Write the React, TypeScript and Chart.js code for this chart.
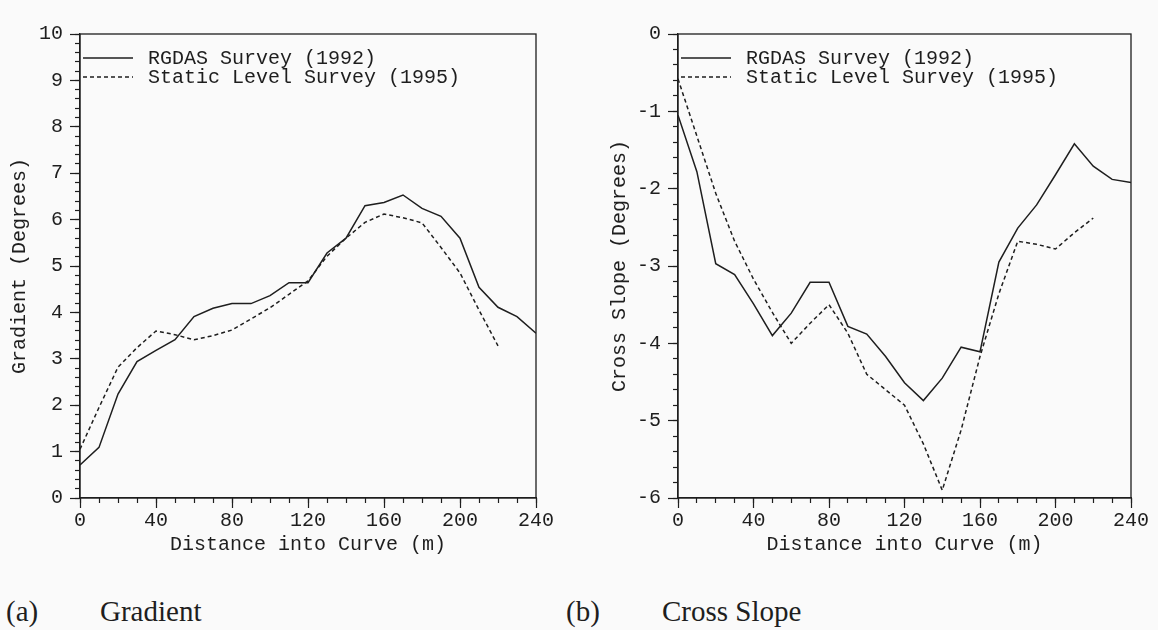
import React, { useEffect, useRef } from "react";
import { Chart, registerables } from "chart.js";

Chart.register(...registerables);

// ---------------- data ----------------
const distanceRgdas = [0, 10, 20, 30, 40, 50, 60, 70, 80, 90, 100, 110, 120, 130, 140, 150, 160, 170, 180, 190, 200, 210, 220, 230, 240];
const distanceStatic = [0, 10, 20, 30, 40, 50, 60, 70, 80, 90, 100, 110, 120, 130, 140, 150, 160, 170, 180, 190, 200, 210, 220];

const gradientRgdas = [0.71, 1.09, 2.24, 2.94, 3.18, 3.41, 3.91, 4.09, 4.19, 4.19, 4.36, 4.64, 4.64, 5.28, 5.6, 6.3, 6.37, 6.53, 6.24, 6.07, 5.6, 4.54, 4.11, 3.91, 3.55];
const gradientStatic = [1.05, 1.95, 2.82, 3.24, 3.6, 3.52, 3.41, 3.5, 3.62, 3.86, 4.1, 4.39, 4.68, 5.21, 5.6, 5.94, 6.12, 6.04, 5.93, 5.4, 4.85, 4.05, 3.28];

const crossRgdas = [-1.05, -1.78, -2.97, -3.11, -3.49, -3.9, -3.61, -3.21, -3.21, -3.78, -3.88, -4.17, -4.51, -4.74, -4.45, -4.05, -4.11, -2.95, -2.51, -2.21, -1.82, -1.42, -1.71, -1.88, -1.92];
const crossStatic = [-0.58, -1.32, -2.06, -2.68, -3.17, -3.6, -4.0, -3.74, -3.5, -3.87, -4.4, -4.6, -4.8, -5.3, -5.9, -5.12, -4.17, -3.36, -2.68, -2.72, -2.78, -2.57, -2.38];

const seriesLabels = ["RGDAS Survey (1992)", "Static Level Survey (1995)"];
const xTitle = "Distance into Curve (m)";
const gradientTitle = "Gradient (Degrees)";
const crossTitle = "Cross Slope (Degrees)";

// ---------------- styles ----------------
const MONO = "'Liberation Mono', 'DejaVu Sans Mono', monospace";
const INK = "#1e1e1e";
const monoFont = { family: MONO, size: 20, lineHeight: 1.2 };

function pairs(xs: number[], ys: number[]) {
  return ys.map((y, i) => ({ x: xs[i], y }));
}

const framePlugin = {
  id: "frame",
  afterDatasetsDraw(chart: any) {
    const { ctx, chartArea } = chart;
    ctx.save();
    ctx.strokeStyle = INK;
    ctx.lineWidth = 1.3;
    ctx.strokeRect(chartArea.left, chartArea.top, chartArea.right - chartArea.left, chartArea.bottom - chartArea.top);
    ctx.restore();
  },
};

const insideLegendPlugin = {
  id: "insideLegend",
  afterDatasetsDraw(chart: any) {
    const { ctx, chartArea } = chart;
    ctx.save();
    chart.data.datasets.forEach((ds: any, i: number) => {
      const y = chartArea.top + 24 + i * 19;
      ctx.strokeStyle = ds.borderColor;
      ctx.lineWidth = ds.borderWidth;
      ctx.setLineDash(ds.borderDash || []);
      ctx.beginPath();
      ctx.moveTo(chartArea.left + 3, y);
      ctx.lineTo(chartArea.left + 53, y);
      ctx.stroke();
      ctx.setLineDash([]);
      ctx.fillStyle = INK;
      ctx.font = `20px ${MONO}`;
      ctx.textBaseline = "middle";
      ctx.textAlign = "left";
      ctx.fillText(ds.label, chartArea.left + 68, y + 1);
    });
    ctx.restore();
  },
};

type PanelProps = {
  xsA: number[];
  ysA: number[];
  xsB: number[];
  ysB: number[];
  yMin: number;
  yMax: number;
  yTitle: string;
  yAxisWidth: number;
  yTitlePad: number;
  padRight: number;
  width: number;
  height: number;
  left: number;
};

function Panel(p: PanelProps) {
  const ref = useRef<HTMLCanvasElement | null>(null);
  useEffect(() => {
    if (!ref.current) return;
    const chart = new Chart(ref.current, {
      type: "line",
      data: {
        datasets: [
          {
            label: seriesLabels[0],
            data: pairs(p.xsA, p.ysA),
            borderColor: INK,
            borderWidth: 1.5,
            pointRadius: 0,
            tension: 0,
            fill: false,
            xAxisID: "x",
            yAxisID: "y",
          },
          {
            label: seriesLabels[1],
            data: pairs(p.xsB, p.ysB),
            borderColor: INK,
            borderWidth: 1.5,
            borderDash: [4, 3],
            pointRadius: 0,
            tension: 0,
            fill: false,
            xAxisID: "x",
            yAxisID: "y",
          },
        ],
      },
      options: {
        responsive: false,
        animation: false,
        devicePixelRatio: 1,
        layout: { padding: { left: 0, top: 34, right: p.padRight, bottom: 2 } },
        plugins: { legend: { display: false }, tooltip: { enabled: false } },
        events: [],
        scales: {
          x: {
            type: "linear",
            position: "bottom",
            min: 0,
            max: 240,
            weight: 1,
            ticks: {
              stepSize: 40,
              autoSkip: false,
              maxRotation: 0,
              padding: 1,
              font: monoFont,
              color: INK,
              callback: (v: any) => String(Math.round(Number(v))),
            },
            grid: { drawOnChartArea: false, drawTicks: true, tickLength: 10, tickColor: INK, tickWidth: 1.2 },
            border: { display: true, color: INK, width: 1.3 },
            title: { display: true, text: xTitle, font: monoFont, color: INK, padding: { top: 0, bottom: 11 } },
            afterFit: (s: any) => {
              s.height = 70;
            },
          },
          xMinor: {
            type: "linear",
            position: "bottom",
            min: 0,
            max: 240,
            weight: 0,
            ticks: { display: false, stepSize: 10, autoSkip: false },
            grid: { drawOnChartArea: false, drawTicks: true, tickLength: 5, tickColor: INK, tickWidth: 1.2 },
            border: { display: false },
            afterFit: (s: any) => {
              s.height = 0;
            },
          },
          y: {
            type: "linear",
            position: "left",
            min: p.yMin,
            max: p.yMax,
            weight: 1,
            ticks: {
              stepSize: 1,
              autoSkip: false,
              padding: 7,
              font: monoFont,
              color: INK,
              callback: (v: any) => String(Math.round(Number(v))),
            },
            grid: { drawOnChartArea: false, drawTicks: true, tickLength: 10, tickColor: INK, tickWidth: 1.2 },
            border: { display: true, color: INK, width: 1.3 },
            title: { display: true, text: p.yTitle, font: monoFont, color: INK, padding: { top: p.yTitlePad, bottom: 0 } },
            afterFit: (s: any) => {
              s.width = p.yAxisWidth;
            },
          },
          yMinor: {
            type: "linear",
            position: "left",
            min: p.yMin,
            max: p.yMax,
            weight: 0,
            ticks: { display: false, stepSize: 0.2, autoSkip: false },
            grid: { drawOnChartArea: false, drawTicks: true, tickLength: 5, tickColor: INK, tickWidth: 1.2 },
            border: { display: false },
            afterFit: (s: any) => {
              s.width = 0;
            },
          },
        },
      } as any,
      plugins: [framePlugin, insideLegendPlugin],
    });
    return () => chart.destroy();
  }, []);
  return (
    <canvas
      ref={ref}
      width={p.width}
      height={p.height}
      style={{ position: "absolute", left: p.left, top: 0, width: p.width, height: p.height }}
    />
  );
}

const captionStyle: React.CSSProperties = {
  position: "absolute",
  top: 597,
  fontFamily: "'Liberation Serif', 'DejaVu Serif', serif",
  fontSize: 29,
  lineHeight: 1,
  color: "#1e1e1e",
  whiteSpace: "pre",
};

export default function App() {
  return (
    <div
      style={{
        position: "absolute",
        left: 0,
        top: 0,
        width: 1158,
        height: 630,
        background: "#fafafa",
        overflow: "hidden",
      }}
    >
      <Panel
        xsA={distanceRgdas}
        ysA={gradientRgdas}
        xsB={distanceStatic}
        ysB={gradientStatic}
        yMin={0}
        yMax={10}
        yTitle={gradientTitle}
        yAxisWidth={80}
        yTitlePad={8}
        padRight={34}
        width={570}
        height={570}
        left={0}
      />
      <Panel
        xsA={distanceRgdas}
        ysA={crossRgdas}
        xsB={distanceStatic}
        ysB={crossStatic}
        yMin={-6}
        yMax={0}
        yTitle={crossTitle}
        yAxisWidth={88}
        yTitlePad={18}
        padRight={27}
        width={568}
        height={570}
        left={590}
      />
      <span style={{ ...captionStyle, left: 6 }}>(a)</span>
      <span style={{ ...captionStyle, left: 100 }}>Gradient</span>
      <span style={{ ...captionStyle, left: 566 }}>(b)</span>
      <span style={{ ...captionStyle, left: 662 }}>Cross Slope</span>
    </div>
  );
}
